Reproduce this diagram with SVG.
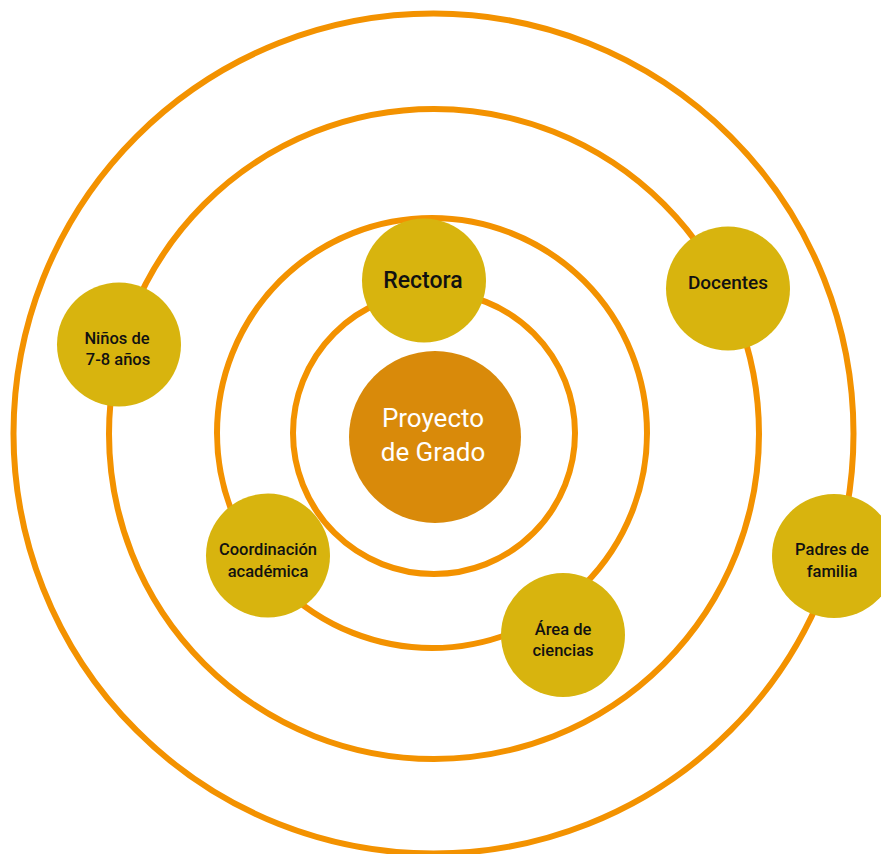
<svg xmlns="http://www.w3.org/2000/svg" width="881" height="854" viewBox="0 0 881 854">
<style>
.ring{fill:none;stroke:#F39200;stroke-width:6}
.node{fill:#D8B40E}
.core{fill:#D98A0A}
text{font-family:Roboto,"Liberation Sans",sans-serif;font-weight:500;text-anchor:middle;fill:#111}
.s{font-size:16.5px}
</style>
<rect width="881" height="854" fill="#fff"/>
<g id="rings">
<circle class="ring" cx="433.5" cy="433.5" r="420"/>
<circle class="ring" cx="434" cy="434" r="325"/>
<circle class="ring" cx="432" cy="433" r="215"/>
<circle class="ring" cx="434" cy="433" r="141"/>
</g>
<g id="proyecto">
<circle class="core" cx="435" cy="437" r="86"/>
<text x="433" y="427" style="font-size:26px;font-weight:400;fill:#fff">Proyecto</text>
<text x="433" y="461" style="font-size:26px;font-weight:400;fill:#fff">de Grado</text>
</g>
<g id="rectora">
<circle class="node" cx="424" cy="280.5" r="62"/>
<text x="423" y="288" style="font-size:23px">Rectora</text>
</g>
<g id="docentes">
<circle class="node" cx="728" cy="288.5" r="62"/>
<text x="728" y="289" style="font-size:19px">Docentes</text>
</g>
<g id="ninos">
<circle class="node" cx="119" cy="344.5" r="62"/>
<text class="s" x="117" y="344">Niños de</text>
<text class="s" x="118" y="365">7-8 años</text>
</g>
<g id="coordinacion">
<circle class="node" cx="268" cy="555.5" r="62"/>
<text class="s" x="268" y="555">Coordinación</text>
<text class="s" x="268" y="577">académica</text>
</g>
<g id="area">
<circle class="node" cx="563" cy="635" r="62"/>
<text class="s" x="563" y="635">Área de</text>
<text class="s" x="563" y="656">ciencias</text>
</g>
<g id="padres">
<circle class="node" cx="834" cy="556" r="62"/>
<text class="s" x="832" y="555">Padres de</text>
<text class="s" x="832" y="577">familia</text>
</g>
</svg>
